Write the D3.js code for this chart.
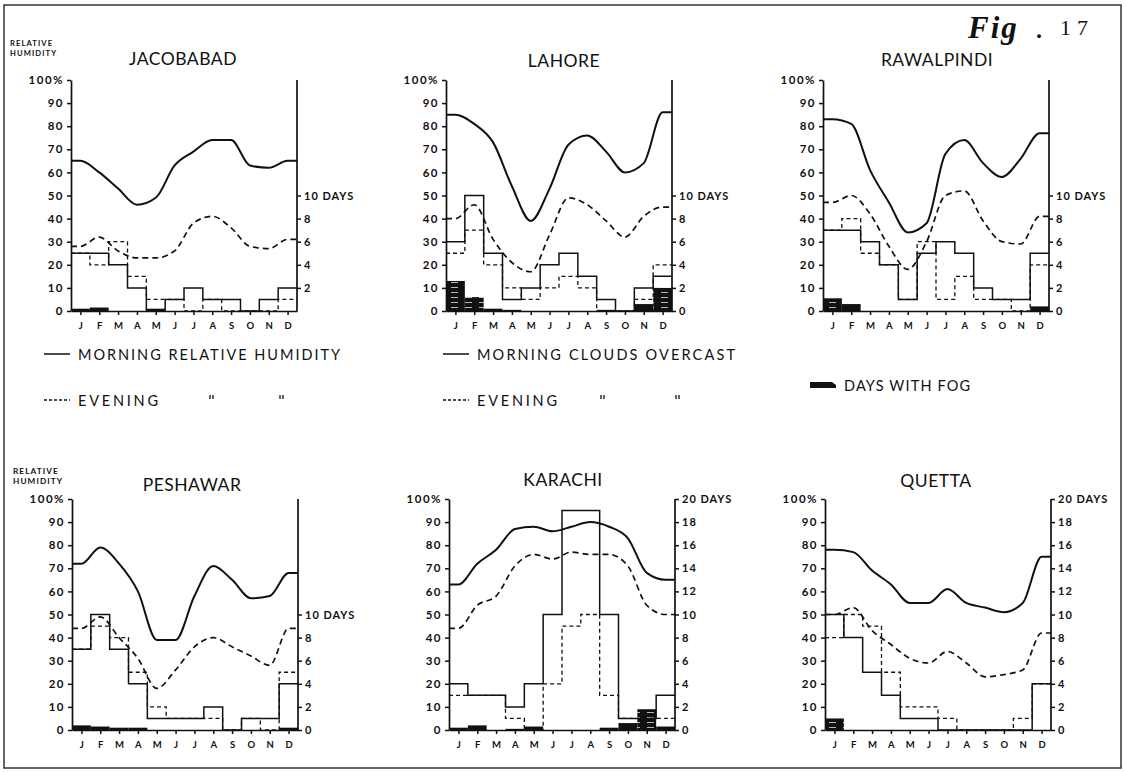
<!DOCTYPE html>
<html><head><meta charset="utf-8">
<script src="https://cdn.jsdelivr.net/npm/d3@7"></script>
<style>
body{margin:0;background:#fff}
svg{display:block}
text{font-family:Lato,"Open Sans",sans-serif;fill:#111}
</style>
</head><body>
<svg id="chart" width="1126" height="772"></svg>
<script>
// ---------- DATA ----------
const months = ["J","F","M","A","M","J","J","A","S","O","N","D"];
const cities = ["JACOBABAD","LAHORE","RAWALPINDI","PESHAWAR","KARACHI","QUETTA"];
const rhTicks = [0,10,20,30,40,50,60,70,80,90,100];
const daysTicksJacobabad = [2,4,6,8,10];
const daysTicks10 = [0,2,4,6,8,10];
const daysTicks20 = [0,2,4,6,8,10,12,14,16,18,20];

// relative humidity, % (morning / evening)
const jacobabadMorningRH = [65,60,53,46,49,63,69,74,74,63,62,65];
const jacobabadEveningRH = [28,32,26,23,23,26,38,41,36,28,27,31];
const lahoreMorningRH    = [85,81,73,54,39,53,72,76,69,60,64,86];
const lahoreEveningRH    = [40,46,31,21,17,33,49,46,39,32,41,45];
const rawalpindiMorningRH= [83,81,61,47,34,38,68,74,64,58,66,77];
const rawalpindiEveningRH= [47,50,42,28,18,30,50,52,39,30,29,41];
const peshawarMorningRH  = [72,79,72,60,39,39,58,71,65,57,58,68];
const peshawarEveningRH  = [44,49,40,31,18,26,36,40,36,32,28,44];
const karachiMorningRH   = [63,72,78,87,88,86,88,90,88,83,68,65];
const karachiEveningRH   = [44,54,58,71,76,74,77,76,76,71,54,50];
const quettaMorningRH    = [78,77,69,63,55,55,61,55,53,51,55,75];
const quettaEveningRH    = [50,53,43,37,31,29,34,29,23,24,26,42];

// days with clouds overcast (morning / evening) and days with fog
const jacobabadMorningCloud = [5,5,4,2,0,1,2,1,1,0,1,2];
const jacobabadEveningCloud = [5,4,6,3,1,1,0,1,0,0,0,1];
const jacobabadFog          = [0.2,0.3,0,0,0.2,0,0,0,0,0,0,0];
const lahoreMorningCloud    = [6,10,5,1,2,4,5,3,1,0,2,3];
const lahoreEveningCloud    = [5,7,4,2,1,2,3,2,0,0,1,4];
const lahoreFog             = [2.6,1.2,0.2,0.1,0,0,0,0,0.1,0,0.6,2];
const rawalpindiMorningCloud= [7,7,6,4,1,5,6,5,2,1,1,5];
const rawalpindiEveningCloud= [7,8,5,4,1,6,1,3,1,1,0,4];
const rawalpindiFog         = [1.1,0.6,0,0,0,0,0,0,0,0,0,0.4];
const peshawarMorningCloud  = [7,10,7,4,1,1,1,2,0,1,1,4];
const peshawarEveningCloud  = [7,9,8,5,2,1,1,1,0,1,0,5];
const peshawarFog           = [0.4,0.3,0.2,0.2,0,0,0,0,0,0,0,0.2];
const karachiMorningCloud   = [4,3,3,2,4,10,19,19,10,1,1,3];
const karachiEveningCloud   = [3,3,3,1,0,4,9,10,3,1,1,1];
const karachiFog            = [0.2,0.4,0,0.1,0.3,0,0,0,0.2,0.6,1.8,0.3];
const quettaMorningCloud    = [10,8,5,3,1,1,0,0,0,0,0,4];
const quettaEveningCloud    = [8,10,9,5,2,2,1,0,0,0,1,4];
const quettaFog             = [1,0,0,0,0,0,0,0,0,0,0,0];

const legendLabels = ["MORNING RELATIVE HUMIDITY","EVENING","MORNING CLOUDS OVERCAST","EVENING","DAYS WITH FOG"];

const table = [
  {name:cities[0], mRH:jacobabadMorningRH, eRH:jacobabadEveningRH, mC:jacobabadMorningCloud, eC:jacobabadEveningCloud, fog:jacobabadFog, dTicks:daysTicksJacobabad, dMax:10},
  {name:cities[1], mRH:lahoreMorningRH, eRH:lahoreEveningRH, mC:lahoreMorningCloud, eC:lahoreEveningCloud, fog:lahoreFog, dTicks:daysTicks10, dMax:10},
  {name:cities[2], mRH:rawalpindiMorningRH, eRH:rawalpindiEveningRH, mC:rawalpindiMorningCloud, eC:rawalpindiEveningCloud, fog:rawalpindiFog, dTicks:daysTicks10, dMax:10},
  {name:cities[3], mRH:peshawarMorningRH, eRH:peshawarEveningRH, mC:peshawarMorningCloud, eC:peshawarEveningCloud, fog:peshawarFog, dTicks:daysTicks10, dMax:10},
  {name:cities[4], mRH:karachiMorningRH, eRH:karachiEveningRH, mC:karachiMorningCloud, eC:karachiEveningCloud, fog:karachiFog, dTicks:daysTicks20, dMax:20},
  {name:cities[5], mRH:quettaMorningRH, eRH:quettaEveningRH, mC:quettaMorningCloud, eC:quettaEveningCloud, fog:quettaFog, dTicks:daysTicks20, dMax:20}
];

// ---------- LAYOUT ----------
const layout = [
  {x:71, y:311, tx:183, ty:65, rel:[10,46,7.6]},
  {x:446,y:311, tx:564, ty:67},
  {x:823,y:311, tx:937, ty:66},
  {x:72, y:730, tx:192, ty:491, rel:[13,474,8.2]},
  {x:449,y:730, tx:563, ty:486},
  {x:825,y:730, tx:936, ty:487}
];
const W = 226, H = 231;
const svg = d3.select("#chart");
const ink = "#111";

// fog hatch pattern
const defs = svg.append("defs");
const pat = defs.append("pattern").attr("id","fogPat").attr("patternUnits","userSpaceOnUse")
  .attr("width",14).attr("height",5);
pat.append("rect").attr("width",14).attr("height",5).attr("fill",ink);
pat.append("line").attr("x1",3).attr("x2",10).attr("y1",2.5).attr("y2",2.5)
  .attr("stroke","#fff").attr("stroke-width",0.7);

// frame
svg.append("rect").attr("x",4).attr("y",5).attr("width",1117).attr("height",763)
  .attr("fill","none").attr("stroke","#333").attr("stroke-width",1.5);

table.forEach((c, k) => {
  const p = layout[k];
  const g = svg.append("g");
  const x = d3.scaleLinear().domain([0,12]).range([p.x, p.x + W]);
  const y = d3.scaleLinear().domain([0,100]).range([p.y, p.y - H]);
  const yd = d3.scaleLinear().domain([0,20]).range([p.y, p.y - H]);

  // fog bars
  g.selectAll("rect.fog").data(c.fog).join("rect").attr("class","fog")
    .attr("x",(d,i)=>x(i)).attr("width",x(1)-x(0))
    .attr("y",d=>yd(d)).attr("height",d=>p.y-yd(d))
    .attr("fill",d=>d>=1?"url(#fogPat)":ink);

  // cloud steps
  const step = d3.line().x(d=>x(d[0])).y(d=>yd(d[1])).curve(d3.curveStepAfter);
  const stepPts = arr => arr.map((v,i)=>[i,v]).concat([[12,arr[11]]]);
  g.append("path").attr("d",step(stepPts(c.eC))).attr("fill","none")
    .attr("stroke",ink).attr("stroke-width",1.3).attr("stroke-dasharray","4,3");
  g.append("path").attr("d",step(stepPts(c.mC))).attr("fill","none")
    .attr("stroke",ink).attr("stroke-width",1.5);

  // RH curves
  const rhLine = d3.line().x(d=>x(d[0])).y(d=>y(d[1])).curve(d3.curveMonotoneX);
  const rhPts = arr => [[0,arr[0]]].concat(arr.map((v,i)=>[i+0.5,v])).concat([[12,arr[11]]]);
  g.append("path").attr("d",rhLine(rhPts(c.eRH))).attr("fill","none")
    .attr("stroke",ink).attr("stroke-width",1.7).attr("stroke-dasharray","6,4");
  g.append("path").attr("d",rhLine(rhPts(c.mRH))).attr("fill","none")
    .attr("stroke",ink).attr("stroke-width",2);

  // left axis
  const la = g.append("g").attr("transform",`translate(${p.x},0)`)
    .call(d3.axisLeft(y).tickValues(rhTicks).tickFormat(d=>d===100?"100%":d)
      .tickSize(4).tickSizeOuter(0).tickPadding(3));
  // right axis
  const ra = g.append("g").attr("transform",`translate(${p.x+W},0)`)
    .call(d3.axisRight(yd).tickValues(c.dTicks).tickFormat(d=>d===c.dMax?d+" DAYS":d)
      .tickSize(4).tickSizeOuter(0).tickPadding(3));
  ra.select(".domain").attr("d",`M0,${y(0)}V${y(100)}`);
  // bottom axis
  const ba = g.append("g").attr("transform",`translate(0,${p.y})`)
    .call(d3.axisBottom(x).tickValues(d3.range(12).map(i=>i+0.5))
      .tickFormat(d=>months[Math.floor(d)]).tickSize(4).tickSizeOuter(0).tickPadding(7));
  [la,ra,ba].forEach(a=>{
    a.select(".domain").attr("stroke",ink).attr("stroke-width",1.7);
    a.selectAll(".tick line").attr("stroke",ink).attr("stroke-width",1.5);
    a.selectAll("text").attr("fill",ink).style("font-family","Lato, sans-serif").style("font-weight","700");
  });
  la.selectAll("text").style("font-size","11.5px").style("letter-spacing","1.5px");
  ra.selectAll("text").style("font-size","11px").style("letter-spacing","1px");
  ba.selectAll("text").style("font-size","9.5px");

  // title
  g.append("text").attr("x",p.tx).attr("y",p.ty).attr("text-anchor","middle")
    .style("font-size","17.5px").style("letter-spacing","0.5px").text(c.name);
  if (p.rel) {
    const [rx, ry, fs] = p.rel;
    ["RELATIVE","HUMIDITY"].forEach((t,j)=>
      g.append("text").attr("x",rx).attr("y",ry + j*(fs+2)).style("font-size",fs+"px").style("font-weight","700")
        .style("letter-spacing","1.1px").text(t));
  }
});

// ---------- LEGEND ----------
const lg = svg.append("g");
const leg = [
  {x:44, y:360, dash:null, label:legendLabels[0], len:262},
  {x:44, y:406, dash:"3,2", label:legendLabels[1], len:80, ditto:[210,280]},
  {x:443,y:360, dash:null, label:legendLabels[2], len:258},
  {x:443,y:406, dash:"3,2", label:legendLabels[3], len:80, ditto:[601,676]}
];
leg.forEach(l=>{
  lg.append("line").attr("x1",l.x).attr("x2",l.x+26).attr("y1",l.y-6).attr("y2",l.y-6)
    .attr("stroke",ink).attr("stroke-width",1.5).attr("stroke-dasharray",l.dash);
  lg.append("text").attr("x",l.x+34).attr("y",l.y).style("font-size","14.5px")
    .attr("textLength",l.len).attr("lengthAdjust","spacing").text(l.label);
  (l.ditto||[]).forEach(dx=>lg.append("path")
    .attr("d",`M${dx},${l.y-11}v4M${dx+3},${l.y-11}v4`)
    .attr("stroke",ink).attr("stroke-width",1.3));
});
lg.append("path").attr("d","M810,382 L832,382 L836,385 L836,388 L810,388 Z").attr("fill",ink);
lg.append("text").attr("x",844).attr("y",391).style("font-size","14.5px")
  .attr("textLength",126).attr("lengthAdjust","spacing").text(legendLabels[4]);

// figure label
svg.append("text").attr("x",968).attr("y",38).style("font-family","'Liberation Serif',serif")
  .style("font-style","italic").style("font-weight","700").style("font-size","31px")
  .style("letter-spacing","2px").text("Fig");
svg.append("text").attr("x",1036).attr("y",38).style("font-family","'Liberation Serif',serif")
  .style("font-weight","700").style("font-size","24px").text(".");
svg.append("text").attr("x",1060).attr("y",35).style("font-family","'Liberation Serif',serif")
  .style("font-size","22px").style("letter-spacing","6px").text("17");
</script>
</body></html>
